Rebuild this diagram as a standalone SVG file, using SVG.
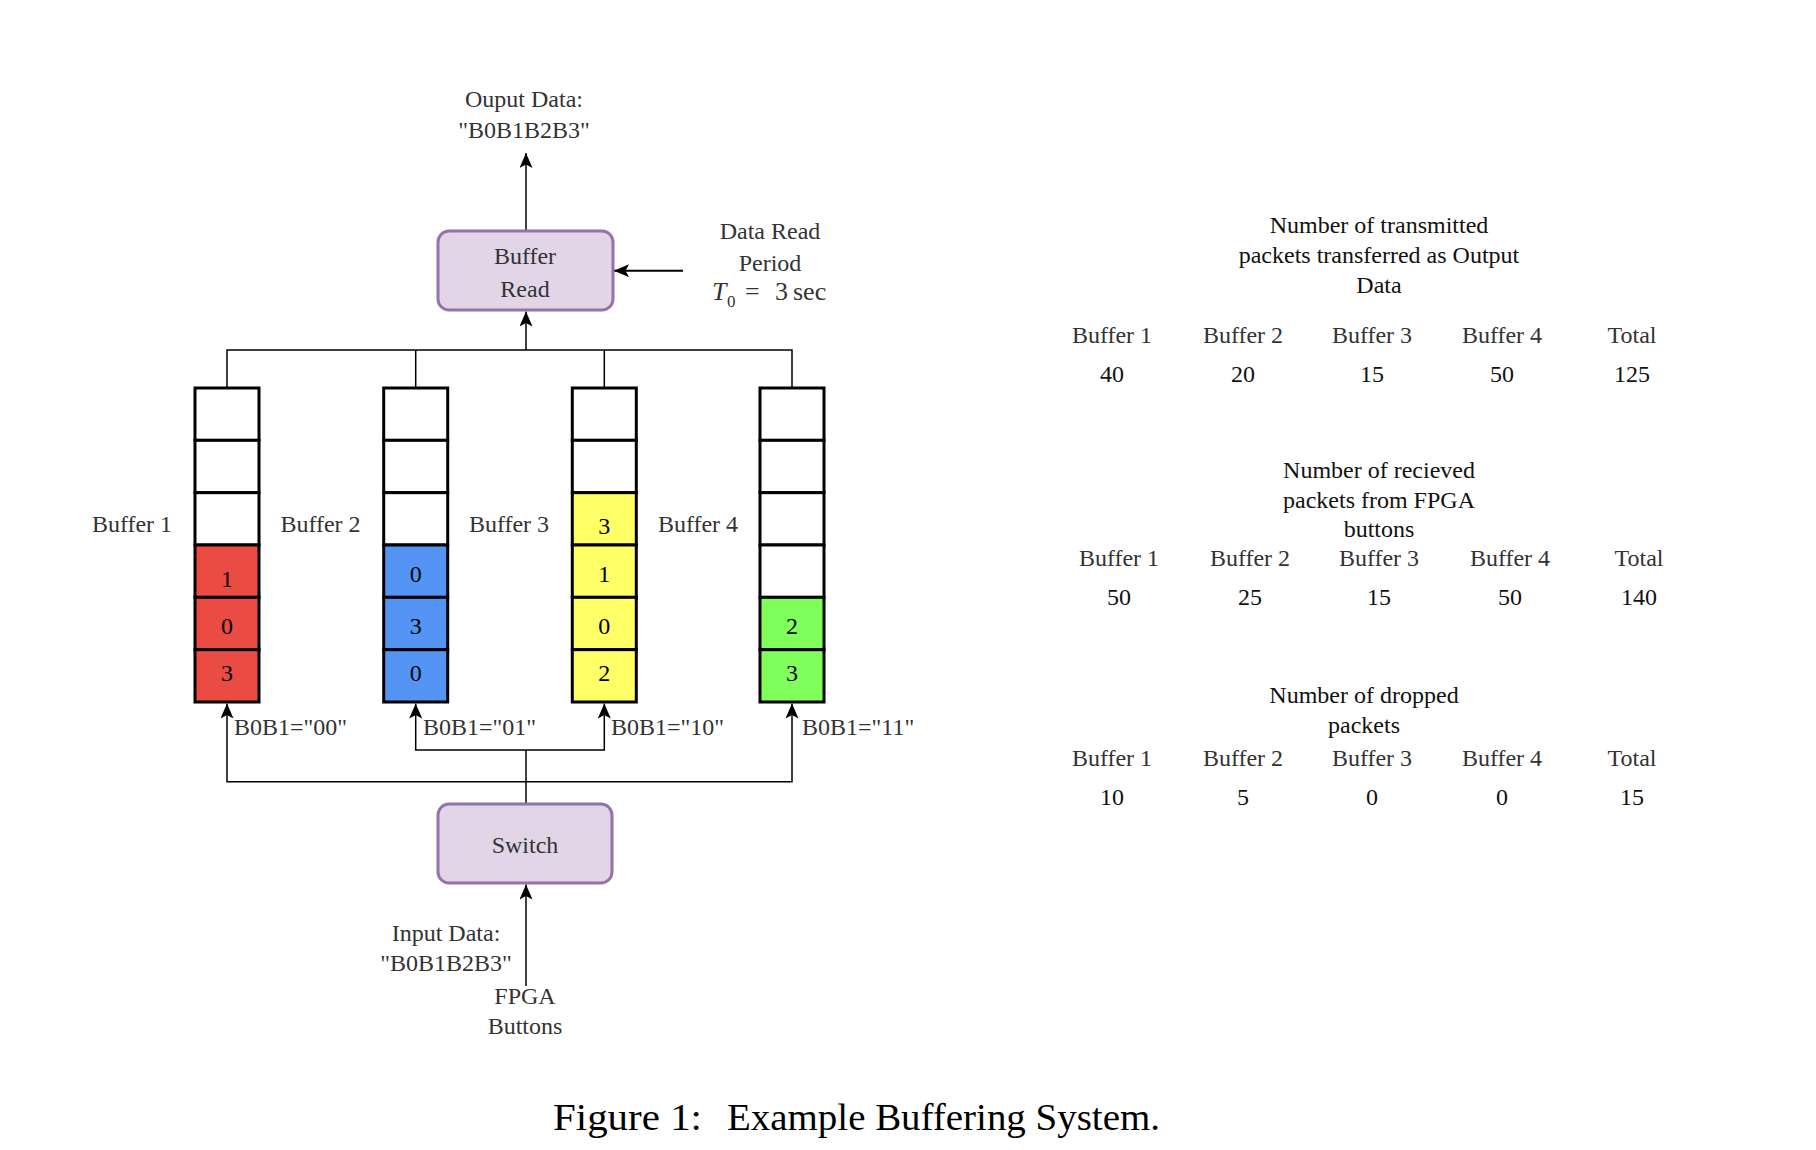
<svg xmlns="http://www.w3.org/2000/svg" width="1816" height="1150" viewBox="0 0 1816 1150">
<style>
.t{font-family:"Liberation Serif","Times New Roman",serif;font-size:24px;fill:#333;}
.k{fill:#111;}
.n{font-family:"Liberation Serif","Times New Roman",serif;font-size:24px;fill:#000;text-anchor:middle;}
.c{text-anchor:middle;}
.box{fill:#e1d5e7;stroke:#9673a6;stroke-width:3;}
.cell{stroke:#000;stroke-width:3;}
.w{fill:#fff;}
.r{fill:#ea4b43;}
.b{fill:#5394f5;}
.y{fill:#ffff66;}
.g{fill:#80ff5c;}
.ln{fill:none;stroke:#000;stroke-width:1.5;}
.cap{font-family:"Liberation Serif","Times New Roman",serif;font-size:37px;fill:#000;}
</style>
<defs>
<marker id="ar" viewBox="0 0 15 13" markerWidth="15" markerHeight="13" refX="15" refY="6.5" orient="auto" markerUnits="userSpaceOnUse">
<path d="M0,0 L15,6.5 L0,13 L3.5,6.5 Z" fill="#000"/>
</marker>
</defs>
<rect width="1816" height="1150" fill="#fff"/>

<g id="connectors">
<path class="ln" d="M526,231 V153" marker-end="url(#ar)"/>
<path class="ln" style="stroke-width:2" d="M683,270.7 H614" marker-end="url(#ar)"/>
<path class="ln" d="M227,388 V350 H792 V388 M415.7,388 V350 M604.3,388 V350"/>
<path class="ln" d="M526,350 V311.5" marker-end="url(#ar)"/>
<path class="ln" d="M526,804 V750"/>
<path class="ln" d="M526,750 H415.7 V703.5" marker-end="url(#ar)"/>
<path class="ln" d="M526,750 H604.3 V703.5" marker-end="url(#ar)"/>
<path class="ln" d="M526,781.7 H227 V703.5" marker-end="url(#ar)"/>
<path class="ln" d="M526,781.7 H792 V703.5" marker-end="url(#ar)"/>
<path class="ln" d="M526,986 V884.5" marker-end="url(#ar)"/>
</g>

<g id="output-label">
<text class="t c" x="524" y="107">Ouput Data:</text>
<text class="t c" x="524" y="138">"B0B1B2B3"</text>
</g>

<g id="buffer-read">
<rect class="box" x="438" y="231" width="175" height="79" rx="11"/>
<text class="t c" x="525" y="264">Buffer</text>
<text class="t c" x="525" y="297">Read</text>
</g>

<g id="data-read-period">
<text class="t c" x="770" y="239">Data Read</text>
<text class="t c" x="770" y="271">Period</text>
<text class="t" y="300" style="font-size:26px"><tspan x="712" font-style="italic">T</tspan><tspan x="727" y="307" font-size="17">0</tspan><tspan x="745" y="300">=</tspan><tspan x="775" y="300">3</tspan><tspan x="793">sec</tspan></text>
</g>

<g id="buffer1">
<rect class="cell w" x="195" y="388" width="64" height="52.33"/>
<rect class="cell w" x="195" y="440.33" width="64" height="52.33"/>
<rect class="cell w" x="195" y="492.67" width="64" height="52.33"/>
<rect class="cell r" x="195" y="545" width="64" height="52.33"/>
<rect class="cell r" x="195" y="597.33" width="64" height="52.33"/>
<rect class="cell r" x="195" y="649.67" width="64" height="52.33"/>
<text class="n" x="227" y="587">1</text>
<text class="n" x="227" y="634">0</text>
<text class="n" x="227" y="681">3</text>
<text class="t c" x="132" y="532">Buffer 1</text>
</g>

<g id="buffer2">
<rect class="cell w" x="383.7" y="388" width="64" height="52.33"/>
<rect class="cell w" x="383.7" y="440.33" width="64" height="52.33"/>
<rect class="cell w" x="383.7" y="492.67" width="64" height="52.33"/>
<rect class="cell b" x="383.7" y="545" width="64" height="52.33"/>
<rect class="cell b" x="383.7" y="597.33" width="64" height="52.33"/>
<rect class="cell b" x="383.7" y="649.67" width="64" height="52.33"/>
<text class="n" x="415.7" y="582">0</text>
<text class="n" x="415.7" y="634">3</text>
<text class="n" x="415.7" y="681">0</text>
<text class="t c" x="320.5" y="532">Buffer 2</text>
</g>

<g id="buffer3">
<rect class="cell w" x="572.3" y="388" width="64" height="52.33"/>
<rect class="cell w" x="572.3" y="440.33" width="64" height="52.33"/>
<rect class="cell y" x="572.3" y="492.67" width="64" height="52.33"/>
<rect class="cell y" x="572.3" y="545" width="64" height="52.33"/>
<rect class="cell y" x="572.3" y="597.33" width="64" height="52.33"/>
<rect class="cell y" x="572.3" y="649.67" width="64" height="52.33"/>
<text class="n" x="604.3" y="534">3</text>
<text class="n" x="604.3" y="582">1</text>
<text class="n" x="604.3" y="634">0</text>
<text class="n" x="604.3" y="681">2</text>
<text class="t c" x="509" y="532">Buffer 3</text>
</g>

<g id="buffer4">
<rect class="cell w" x="760" y="388" width="64" height="52.33"/>
<rect class="cell w" x="760" y="440.33" width="64" height="52.33"/>
<rect class="cell w" x="760" y="492.67" width="64" height="52.33"/>
<rect class="cell w" x="760" y="545" width="64" height="52.33"/>
<rect class="cell g" x="760" y="597.33" width="64" height="52.33"/>
<rect class="cell g" x="760" y="649.67" width="64" height="52.33"/>
<text class="n" x="792" y="634">2</text>
<text class="n" x="792" y="681">3</text>
<text class="t c" x="698" y="532">Buffer 4</text>
</g>

<g id="select-labels">
<text class="t" x="234" y="735">B0B1="00"</text>
<text class="t" x="423" y="735">B0B1="01"</text>
<text class="t" x="611" y="735">B0B1="10"</text>
<text class="t" x="802" y="735">B0B1="11"</text>
</g>

<g id="switch">
<rect class="box" x="438" y="804" width="174" height="79" rx="11"/>
<text class="t c" x="525" y="853">Switch</text>
</g>

<g id="input-label">
<text class="t c" x="446" y="941">Input Data:</text>
<text class="t c" x="446" y="971">"B0B1B2B3"</text>
</g>

<g id="fpga-buttons">
<text class="t c" x="525" y="1004">FPGA</text>
<text class="t c" x="525" y="1034">Buttons</text>
</g>

<g id="table-transmitted">
<text class="t c k" x="1379" y="233">Number of transmitted</text>
<text class="t c k" x="1379" y="263">packets transferred as Output</text>
<text class="t c k" x="1379" y="293">Data</text>
<text class="t c" x="1112" y="343">Buffer 1</text>
<text class="t c" x="1243" y="343">Buffer 2</text>
<text class="t c" x="1372" y="343">Buffer 3</text>
<text class="t c" x="1502" y="343">Buffer 4</text>
<text class="t c" x="1632" y="343">Total</text>
<text class="t c k" x="1112" y="382">40</text>
<text class="t c k" x="1243" y="382">20</text>
<text class="t c k" x="1372" y="382">15</text>
<text class="t c k" x="1502" y="382">50</text>
<text class="t c k" x="1632" y="382">125</text>
</g>

<g id="table-received">
<text class="t c k" x="1379" y="478">Number of recieved</text>
<text class="t c k" x="1379" y="508">packets from FPGA</text>
<text class="t c k" x="1379" y="537">buttons</text>
<text class="t c" x="1119" y="566">Buffer 1</text>
<text class="t c" x="1250" y="566">Buffer 2</text>
<text class="t c" x="1379" y="566">Buffer 3</text>
<text class="t c" x="1510" y="566">Buffer 4</text>
<text class="t c" x="1639" y="566">Total</text>
<text class="t c k" x="1119" y="605">50</text>
<text class="t c k" x="1250" y="605">25</text>
<text class="t c k" x="1379" y="605">15</text>
<text class="t c k" x="1510" y="605">50</text>
<text class="t c k" x="1639" y="605">140</text>
</g>

<g id="table-dropped">
<text class="t c k" x="1364" y="703">Number of dropped</text>
<text class="t c k" x="1364" y="733">packets</text>
<text class="t c" x="1112" y="766">Buffer 1</text>
<text class="t c" x="1243" y="766">Buffer 2</text>
<text class="t c" x="1372" y="766">Buffer 3</text>
<text class="t c" x="1502" y="766">Buffer 4</text>
<text class="t c" x="1632" y="766">Total</text>
<text class="t c k" x="1112" y="805">10</text>
<text class="t c k" x="1243" y="805">5</text>
<text class="t c k" x="1372" y="805">0</text>
<text class="t c k" x="1502" y="805">0</text>
<text class="t c k" x="1632" y="805">15</text>
</g>

<g id="caption">
<text class="cap" x="553" y="1130" textLength="149" lengthAdjust="spacingAndGlyphs">Figure 1:</text>
<text class="cap" x="727" y="1130" textLength="433" lengthAdjust="spacingAndGlyphs">Example Buffering System.</text>
</g>
</svg>
